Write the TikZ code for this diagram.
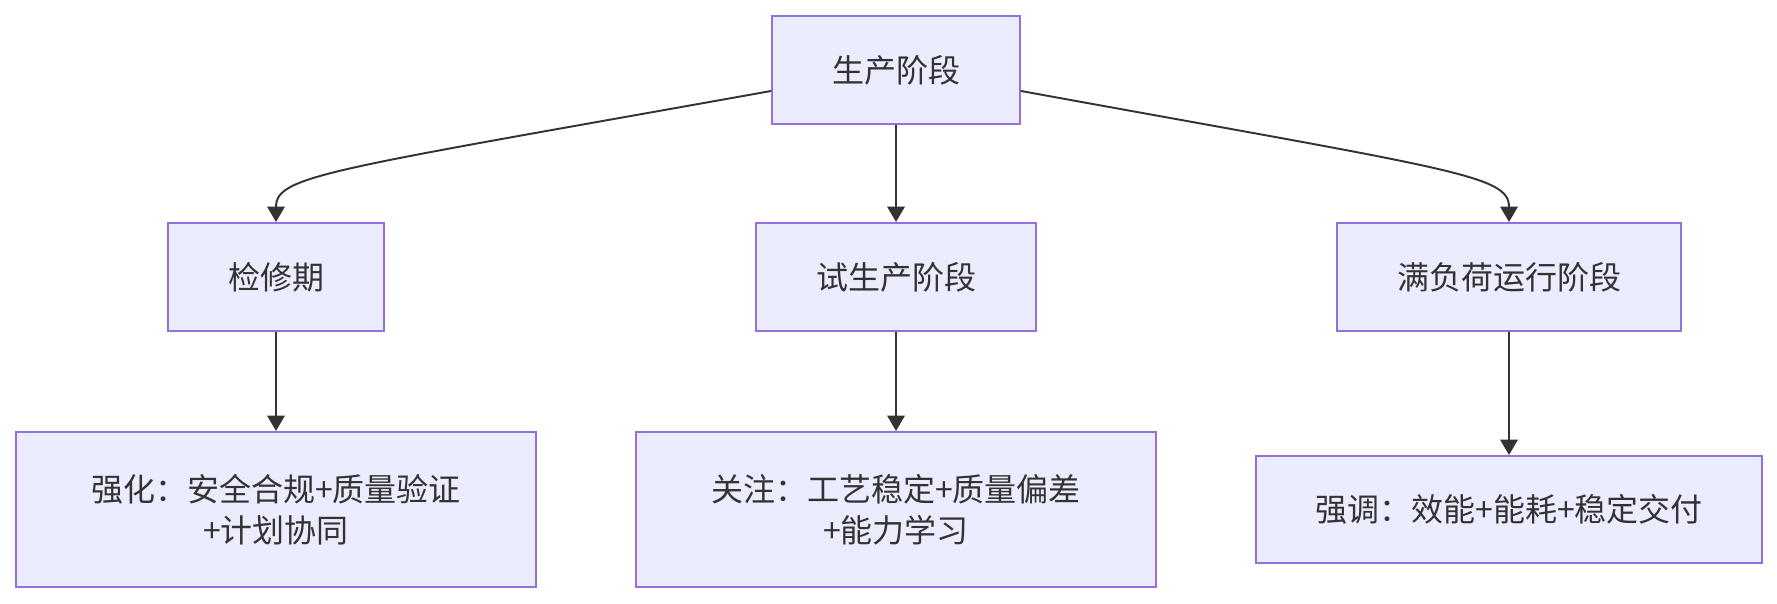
\documentclass[tikz,border=0pt]{standalone}
\usepackage{fontspec}
\newfontfamily\cjk{Noto Sans CJK SC}
\usetikzlibrary{arrows.meta}
\definecolor{boxfill}{HTML}{ECECFF}
\definecolor{boxline}{HTML}{9370DB}
\definecolor{ink}{HTML}{333333}

\begin{document}
\begin{tikzpicture}[x=0.01cm, y=-0.01cm,
    stage/.style={draw=boxline, fill=boxfill, line width=0.55pt, text=ink,
        font=\cjk\fontsize{9.1}{11.7}\selectfont, align=center, inner sep=0pt},
    flow/.style={draw=ink, line width=0.55pt, -{Triangle[length=4.4pt,width=5pt]}}]

\useasboundingbox (0, 0) rectangle (1777, 604);

% top
\node[stage, minimum width=2.48cm, minimum height=1.08cm] (prod) at (896, 70) {生产阶段};

% phases
\node[stage, minimum width=2.16cm, minimum height=1.08cm] (maint) at (276, 277) {检修期};
\node[stage, minimum width=2.80cm, minimum height=1.08cm] (trial) at (896, 277) {试生产阶段};
\node[stage, minimum width=3.44cm, minimum height=1.08cm] (full) at (1509, 277) {满负荷运行阶段};

% focus
\node[stage, minimum width=5.19cm, minimum height=1.55cm] (maintfocus) at (276, 509.5) {强化：安全合规+质量验证\\+计划协同};
\node[stage, minimum width=5.20cm, minimum height=1.55cm] (trialfocus) at (896, 509.5) {关注：工艺稳定+质量偏差\\+能力学习};
\node[stage, minimum width=5.06cm, minimum height=1.07cm] (fullfocus) at (1509, 509.5) {强调：效能+能耗+稳定交付};

\draw[flow] ([yshift=-0.21cm]prod.west) .. controls (330, 170) and (276, 175) .. (maint.north);
\draw[flow] (prod) -- (trial);
\draw[flow] ([yshift=-0.21cm]prod.east) .. controls (1455, 170) and (1509, 175) .. (full.north);

\draw[flow] (maint) -- (maintfocus);
\draw[flow] (trial) -- (trialfocus);
\draw[flow] (full) -- (fullfocus);
\end{tikzpicture}
\end{document}
